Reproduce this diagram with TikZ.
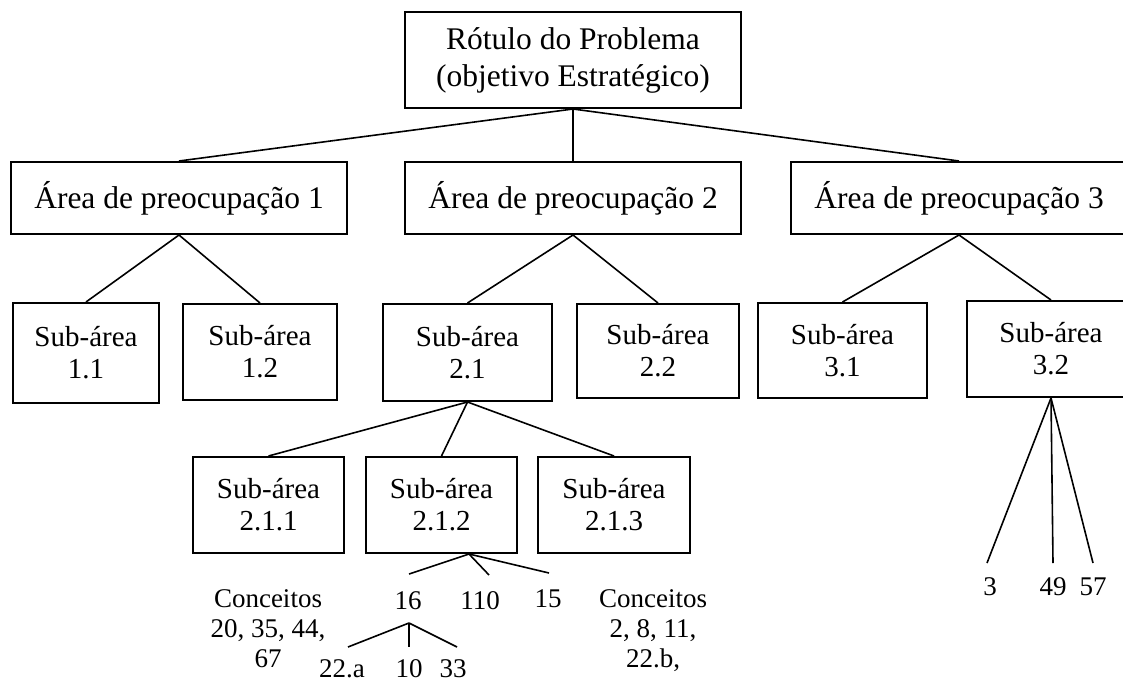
\documentclass[tikz,border=0pt]{standalone}
\usepackage{fontspec}
\setmainfont{Liberation Serif}
\usetikzlibrary{calc}
\begin{document}
\begin{tikzpicture}[x=1pt,y=-1pt,
  box/.style={draw, line width=2pt, inner sep=0pt, align=center},
  bigtext/.style={font=\fontsize{31.5}{37}\selectfont},
  subtext/.style={font=\fontsize{29}{32}\selectfont},
  labtext/.style={font=\fontsize{27}{30}\selectfont, inner sep=0pt, align=center},
  link/.style={line width=1.6pt}]
\useasboundingbox (0,0) rectangle (1123,682);
\clip (0,0) rectangle (1123,682);

% root
\node[box, bigtext, minimum width=336, minimum height=96] (root) at (573,60)
  {Rótulo do Problema\\(objetivo Estratégico)};

% areas of concern
\node[box, bigtext, minimum width=336, minimum height=72] (a1) at (179,198) {Área de preocupação 1};
\node[box, bigtext, minimum width=336, minimum height=72] (a2) at (573,198) {Área de preocupação 2};
\node[box, bigtext, minimum width=336, minimum height=72] (a3) at (959,198) {Área de preocupação 3};

% sub-areas
\node[box, subtext, minimum width=146, minimum height=100] (s11) at (86,353) {Sub-área\\1.1};
\node[box, subtext, minimum width=154, minimum height=96] (s12) at (260,352) {Sub-área\\1.2};
\node[box, subtext, minimum width=169, minimum height=97] (s21) at (467.5,352.5) {Sub-área\\2.1};
\node[box, subtext, minimum width=162, minimum height=94] (s22) at (658,351) {Sub-área\\2.2};
\node[box, subtext, minimum width=169, minimum height=95] (s31) at (842.5,350.5) {Sub-área\\3.1};
\node[box, subtext, minimum width=168, minimum height=96] (s32) at (1051,349) {Sub-área\\3.2};

\node[box, subtext, minimum width=151, minimum height=96] (s211) at (268.5,505) {Sub-área\\2.1.1};
\node[box, subtext, minimum width=151, minimum height=96] (s212) at (441.5,505) {Sub-área\\2.1.2};
\node[box, subtext, minimum width=152, minimum height=96] (s213) at (614,505) {Sub-área\\2.1.3};

% concept labels (base anchor sits on the last line)
\node[labtext, anchor=base] (c211) at (268,667) {Conceitos\\20, 35, 44,\\67};
\node[labtext, anchor=base] (c213) at (653,667) {Conceitos\\2, 8, 11,\\22.b,};
\node[labtext, anchor=base] (n16) at (408,609) {16};
\node[labtext, anchor=base] (n110) at (480,609) {110};
\node[labtext, anchor=base] (n15) at (548,607) {15};
\node[labtext, anchor=base] (n22a) at (342,677) {22.a};
\node[labtext, anchor=base] (n10) at (409,677) {10};
\node[labtext, anchor=base] (n33) at (453,677) {33};
\node[labtext, anchor=base] (n3) at (990,595) {3};
\node[labtext, anchor=base] (n49) at (1053,595) {49};
\node[labtext, anchor=base] (n57) at (1093,595) {57};

% free ends of the short connectors
\coordinate (s212b) at ([xshift=27.5]s212.south);
\coordinate (e16) at (409,574);
\coordinate (e110) at (489,575);
\coordinate (e15) at (549,573);
\coordinate (apex16) at (409,623);
\coordinate (e22a) at (348,647);
\coordinate (e10) at (409,647);
\coordinate (e33) at (457,647);
\coordinate (e3) at (987,563);
\coordinate (e49) at (1053,563);
\coordinate (e57) at (1093,563);

% connectors
\draw[link] (root.south) -- (a1.north);
\draw[link] (root.south) -- (a2.north);
\draw[link] (root.south) -- (a3.north);
\draw[link] (a1.south) -- (s11.north);
\draw[link] (a1.south) -- (s12.north);
\draw[link] (a2.south) -- (s21.north);
\draw[link] (a2.south) -- (s22.north);
\draw[link] (a3.south) -- (s31.north);
\draw[link] (a3.south) -- (s32.north);
\draw[link] (s21.south) -- (s211.north);
\draw[link] (s21.south) -- (s212.north);
\draw[link] (s21.south) -- (s213.north);
\draw[link] (s212b) -- (e16);
\draw[link] (s212b) -- (e110);
\draw[link] (s212b) -- (e15);
\draw[link] (apex16) -- (e22a);
\draw[link] (apex16) -- (e10);
\draw[link] (apex16) -- (e33);
\draw[link] (s32.south) -- (e3);
\draw[link] (s32.south) -- (e49);
\draw[link] (s32.south) -- (e57);
\end{tikzpicture}
\end{document}
